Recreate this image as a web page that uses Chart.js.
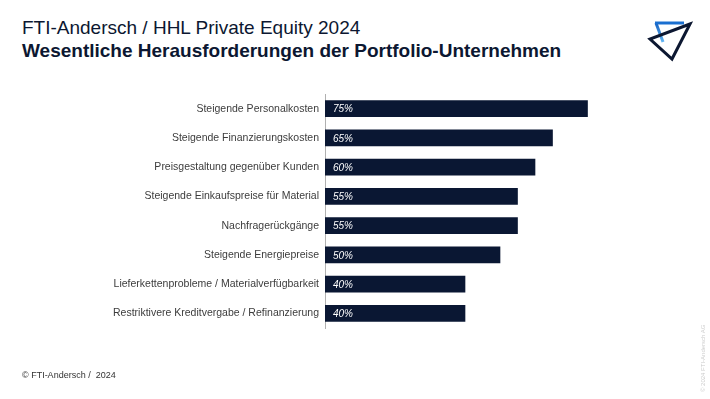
<!DOCTYPE html>
<html>
<head>
<meta charset="utf-8">
<script src="https://cdn.jsdelivr.net/npm/chart.js@4/dist/chart.umd.min.js"></script>
<style>
  html, body { margin: 0; padding: 0; background: #fff; }
  body { width: 710px; height: 399px; position: relative; overflow: hidden; font-family: 'Liberation Sans', Arial, sans-serif; color: #0c1731; }
  #chart { position: absolute; left: 0; top: 0; }
  .title1 { position: absolute; left: 22px; top: 17px; font-size: 19px; white-space: nowrap; }
  .title2 { position: absolute; left: 22px; top: 40px; font-size: 19px; font-weight: bold; white-space: nowrap; }
  .footer { position: absolute; left: 22px; top: 370px; font-size: 9px; color: #333; white-space: nowrap; }
  .side { position: absolute; left: 700px; top: 392px; font-size: 6px; color: #cfcfcf; white-space: nowrap; transform: rotate(-90deg); transform-origin: 0 0; }
  .logo { position: absolute; left: 645px; top: 15px; }
</style>
</head>
<body>
<div class="title1">FTI-Andersch / HHL Private Equity 2024</div>
<div class="title2">Wesentliche Herausforderungen der Portfolio-Unternehmen</div>
<svg class="logo" width="50" height="50" viewBox="0 0 50 50">
  <defs>
    <linearGradient id="blue" x1="0" y1="0" x2="0" y2="1">
      <stop offset="0" stop-color="#1560c0"/>
      <stop offset="1" stop-color="#62b6f4"/>
    </linearGradient>
  </defs>
  <line x1="11" y1="8" x2="18" y2="27" stroke="url(#blue)" stroke-width="3"/>
  <line x1="10" y1="8" x2="39" y2="8" stroke="#1a6fd0" stroke-width="3"/>
  <polygon points="45,9 5,24 27,44" fill="none" stroke="#0c1731" stroke-width="3" stroke-linejoin="miter"/>
</svg>
<canvas id="chart" width="710" height="399"></canvas>
<div class="footer">© FTI-Andersch /&nbsp; 2024</div>
<div class="side">© 2024 FTI-Andersch AG</div>
<script>
const categories = [
  'Steigende Personalkosten',
  'Steigende Finanzierungskosten',
  'Preisgestaltung gegenüber Kunden',
  'Steigende Einkaufspreise für Material',
  'Nachfragerückgänge',
  'Steigende Energiepreise',
  'Lieferkettenprobleme / Materialverfügbarkeit',
  'Restriktivere Kreditvergabe / Refinanzierung',
]
const shares = [75, 65, 60, 55, 55, 50, 40, 40]

const valueLabels = {
  id: 'valueLabels',
  afterDatasetsDraw(chart) {
    const ctx = chart.ctx
    const meta = chart.getDatasetMeta(0)
    ctx.save()
    ctx.fillStyle = '#ffffff'
    ctx.font = "italic 10px 'Liberation Sans', Arial, sans-serif"
    ctx.textBaseline = 'middle'
    ctx.textAlign = 'left'
    meta.data.forEach((bar, i) => {
      ctx.fillText(`${shares[i]}%`, bar.base + 8, bar.y + 1)
    })
    ctx.restore()
  },
}

new Chart(document.getElementById('chart').getContext('2d'), {
  type: 'bar',
  data: {
    labels: categories,
    datasets: [
      {
        data: shares,
        backgroundColor: '#0a1733',
        borderWidth: 0,
        barThickness: 16,
      },
    ],
  },
  options: {
    indexAxis: 'y',
    animation: false,
    responsive: false,
    layout: {
      padding: { top: 94, bottom: 71, left: 0, right: 35 },
    },
    plugins: {
      legend: { display: false },
      tooltip: { enabled: false },
    },
    scales: {
      x: {
        display: false,
        min: 0,
        max: 100,
      },
      y: {
        afterFit(scale) {
          scale.width = 325
        },
        grid: { display: false, drawTicks: false },
        border: { display: true, color: '#b0b0b0', width: 1 },
        ticks: {
          padding: 6,
          color: '#3c3c3c',
          font: { family: "'Liberation Sans', Arial, sans-serif", size: 10.5 },
        },
      },
    },
  },
  plugins: [valueLabels],
})
</script>
</body>
</html>
